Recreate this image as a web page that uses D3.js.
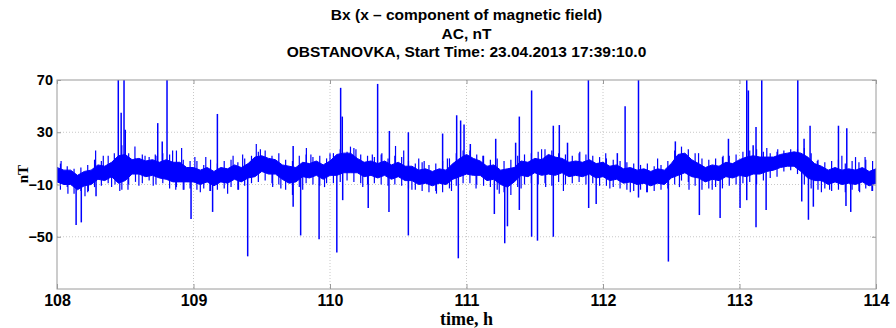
<!DOCTYPE html>
<html>
<head>
<meta charset="utf-8">
<script src="https://cdn.jsdelivr.net/npm/d3@7"></script>
<style>
  body { margin: 0; background: #fff; }
  svg { display: block; }
  .tick text { font-family: "Liberation Sans", Arial, sans-serif; font-weight: bold; fill: #000; }
</style>
</head>
<body>
<svg id="chart" width="896" height="328"></svg>
<script>
// ---- data ----
const titleLines = [
  "Bx (x \u2013 component of magnetic field)",
  "AC, nT",
  "OBSTANOVKA, Start Time: 23.04.2013 17:39:10.0"
];
const xTicks = [108, 109, 110, 111, 112, 113, 114];
const yTicks = [70, 30, -10, -50];

// dense core of the signal, sampled every 0.05 h from 108.00 to 114.00
const bandStart = 108, bandStep = 0.05;
const bandHi = [
  3, 1, 1, -3, 0, 1, 5, 4, 7, 12,
  13, 9, 10, 8, 9, 7, 9, 7, 7, 3,
  3, 1, 3, 0, 3, 2, 5, 3, 6, 11,
  12, 10, 9, 5, 4, 3, 7, 6, 8, 5,
  8, 13, 14, 14, 10, 7, 8, 6, 8, 5,
  7, 4, 4, 1, 2, 0, 2, 1, 6, 10,
  13, 10, 8, 4, 5, 1, 2, 3, 8, 7,
  10, 9, 13, 11, 10, 7, 8, 7, 9, 6,
  7, 4, 5, 2, 3, 1, 2, 0, 2, 1,
  6, 13, 14, 9, 6, 3, 5, 4, 7, 6,
  9, 11, 12, 11, 11, 11, 13, 14, 15, 14,
  11, 6, 4, 1, 3, 1, 2, 1, 3, 0,
  2
];
const bandLo = [
  -8, -10, -10, -14, -11, -10, -6, -7, -4, -9,
  -7, -2, -2, -4, -3, -5, -6, -8, -8, -8,
  -8, -10, -8, -11, -8, -9, -6, -8, -5, -4,
  0, -2, -2, -6, -9, -8, -4, -5, -3, -6,
  -3, -3, -1, -1, -1, -4, -3, -5, -3, -6,
  -4, -7, -7, -10, -9, -11, -9, -10, -6, -4,
  -2, -3, -3, -7, -6, -10, -12, -8, -3, -4,
  -1, -3, -2, -3, -1, -4, -3, -4, -2, -5,
  -4, -7, -6, -9, -8, -10, -9, -11, -9, -10,
  -5, -3, -1, -4, -5, -8, -6, -7, -4, -5,
  -3, -4, -2, -2, 0, 1, 3, 4, 4, 0,
  -5, -7, -7, -10, -8, -10, -9, -10, -8, -11,
  -9
];

// outer fuzz of the signal at the half steps 108.025, 108.075, ... 113.975
const fuzzStart = 108.025;
const fuzzUp = [
  6, 4, 2, 3, 5, 9, 8, 12, 10, 20,
  14, 10, 13, 11, 12, 14, 13, 16, 9, 8,
  8, 5, 9, 6, 8, 9, 7, 10, 12, 15,
  16, 12, 14, 9, 8, 12, 13, 11, 12, 10,
  14, 17, 15, 18, 13, 12, 11, 13, 10, 12,
  11, 8, 6, 7, 5, 6, 8, 10, 14, 16,
  16, 13, 12, 9, 10, 8, 9, 12, 13, 14,
  15, 17, 16, 14, 13, 12, 14, 13, 12, 11,
  10, 9, 8, 7, 6, 5, 6, 4, 5, 8,
  16, 19, 17, 14, 10, 9, 10, 11, 12, 13,
  15, 16, 17, 15, 14, 15, 16, 17, 17, 18,
  14, 9, 7, 8, 9, 6, 8, 7, 9, 8
];
const fuzzDown = [
  -14, -12, -17, -15, -16, -12, -11, -9, -10, -14,
  -10, -8, -9, -7, -10, -9, -13, -12, -14, -13,
  -14, -13, -15, -14, -13, -12, -14, -11, -9, -8,
  -7, -9, -10, -14, -18, -12, -9, -10, -11, -9,
  -9, -8, -7, -8, -9, -10, -9, -10, -11, -10,
  -11, -13, -14, -15, -16, -15, -16, -13, -11, -9,
  -9, -10, -11, -12, -14, -16, -18, -12, -10, -9,
  -10, -9, -11, -8, -10, -9, -8, -10, -9, -11,
  -11, -12, -13, -14, -15, -14, -16, -15, -14, -13,
  -10, -7, -8, -11, -14, -13, -12, -13, -11, -10,
  -9, -8, -10, -7, -5, -4, 0, 1, -2, -10,
  -13, -14, -13, -15, -14, -16, -14, -15, -13, -15
];

// isolated spikes: hour, value (nT)
const spikeHours = [
  108.449, 108.491, 108.470, 108.500, 108.806, 108.738, 108.771, 109.175, 109.730, 110.078,
  110.090, 110.349, 110.435, 110.574, 110.825, 110.928, 110.957, 110.982, 111.028, 111.214,
  111.360, 111.387, 111.477, 111.636, 111.680, 111.740, 111.893, 112.105, 112.162, 112.260,
  112.530, 112.919, 113.053, 113.065, 113.100, 113.121, 113.163, 113.427, 113.473, 113.517,
  113.725, 113.786,
  108.140, 108.178, 108.286, 108.982, 109.140, 109.397, 109.730, 109.785, 109.920, 110.050,
  110.093, 110.280, 110.432, 110.574, 110.940, 111.204, 111.280, 111.300, 111.387, 111.477,
  111.520, 111.636, 111.895, 111.950, 112.260, 112.479, 112.706, 112.858, 113.004, 113.053,
  113.121, 113.195, 113.456, 113.505, 113.541, 113.780, 113.815
];
const spikeValues = [
  74, 74, 45, 32, 74, 37, 23, 44, 19.5, 64,
  42, 67, 31, 30, 29, 43, 39, 36, 21, 25,
  22, 42, 62, 35, 35.5, 22, 74, 14, 50, 74,
  23, 25, 74, 62, 20, 34, 74, 74, 25, 35,
  35, 33,
  -41, -39, -19, -36.5, -31, -65, -27, -49, -52, -62,
  -22, -28, -31, -49, -66.5, -32.6, -55, -42, -29.5, -50,
  -53, -50, -28, -25, -20, -69, -33.4, -35.7, -28, -22,
  -42.8, -29.5, -23, -37, -27, -26.5, -31
];

// smaller spikes along the band edges
const fuzzHours = [
  108.03, 108.08, 108.205, 108.23, 108.283, 108.339, 108.40, 108.42, 108.46, 108.52,
  108.571, 108.60, 108.645, 108.705, 108.72, 108.847, 108.87, 108.913, 108.93, 109.01,
  109.05, 109.09, 109.12, 109.25, 109.29, 109.33, 109.36, 109.46, 109.49, 109.58,
  109.64, 109.80, 109.827, 109.86, 109.96, 110.00, 110.15, 110.19, 110.24, 110.31,
  110.38, 110.48, 110.54, 110.60, 110.65, 110.69, 110.78, 110.86, 110.89, 111.07,
  111.12, 111.24, 111.40, 111.55, 111.58, 111.71, 111.83, 112.02, 112.05, 112.20,
  112.32, 112.40, 112.56, 112.63, 112.70, 112.80, 112.88, 113.20, 113.28, 113.57,
  113.60, 113.66, 113.75, 113.85, 113.88, 113.92, 113.97
];
const fuzzValues = [
  8, -17, -19, -15, 16, 12, -12, 14, -15, -14,
  19, -11, 12, -11, 13, 16, -14, 18, -14, 11,
  -16, 11, -15, -17, 12, -14, 13, 21, 17, -12,
  -13, -14, 18, 13, -12, 14, 19, 17, -12, 13,
  14, 19.5, 16, -14, 10, 8, -17, 10, -15, -13,
  12, -17, -13, 17, -12, -15, 15, 14, -13, -16,
  -16, 10, -12, -14, 14, -14, 12, 18, 17, 8,
  -16, -14, 12, 11, -16, 11, -15
];

// ---- layout ----
const svg = d3.select("#chart");
const margin = { top: 80, right: 20, bottom: 39, left: 57 };
const W = 896, H = 328;
const plotW = W - margin.left - margin.right;
const plotH = H - margin.top - margin.bottom;

const x = d3.scaleLinear().domain([108, 114]).range([0, plotW]);
const y = d3.scaleLinear().domain([-90, 70]).range([plotH, 0]);

const blue = "#0000ff";
const grey = "#9a9a9a";

// titles
svg.append("g")
  .attr("font-family", "Liberation Sans, Arial, sans-serif")
  .attr("font-weight", "bold")
  .attr("font-size", 15.5)
  .attr("text-anchor", "middle")
  .selectAll("text")
  .data(titleLines)
  .join("text")
  .attr("x", margin.left + plotW / 2)
  .attr("y", (d, i) => 20 + i * 18.5)
  .text(d => d);

const g = svg.append("g").attr("transform", `translate(${margin.left},${margin.top})`);

g.append("defs").append("clipPath").attr("id", "clip")
  .append("rect").attr("width", plotW).attr("height", plotH);

// grid
g.append("g")
  .selectAll("line")
  .data(xTicks.slice(1, -1))
  .join("line")
  .attr("x1", d => x(d)).attr("x2", d => x(d))
  .attr("y1", 0).attr("y2", plotH)
  .attr("stroke", "#c8c8c8").attr("stroke-dasharray", "1,2");
g.append("g")
  .selectAll("line")
  .data(yTicks.slice(1))
  .join("line")
  .attr("x1", 0).attr("x2", plotW)
  .attr("y1", d => y(d)).attr("y2", d => y(d))
  .attr("stroke", "#c8c8c8").attr("stroke-dasharray", "1,2");

// signal
const sig = g.append("g").attr("clip-path", "url(#clip)");
const bandHour = i => bandStart + i * bandStep;
const mid = h => {
  const i = Math.max(0, Math.min(bandHi.length - 1, Math.round((h - bandStart) / bandStep)));
  return (bandHi[i] + bandLo[i]) / 2;
};

const area = d3.area()
  .x((d, i) => x(bandHour(i)))
  .y0((d, i) => y(bandLo[i]))
  .y1((d, i) => y(bandHi[i]));
sig.append("path")
  .datum(bandHi)
  .attr("d", area)
  .attr("fill", blue)
  .attr("stroke", blue)
  .attr("stroke-width", 1);

sig.append("g")
  .selectAll("line")
  .data(fuzzUp)
  .join("line")
  .attr("x1", (d, i) => x(fuzzStart + i * bandStep))
  .attr("x2", (d, i) => x(fuzzStart + i * bandStep))
  .attr("y1", (d, i) => y(fuzzDown[i]))
  .attr("y2", d => y(d))
  .attr("stroke", blue).attr("stroke-width", 1.2);

sig.append("g")
  .selectAll("line")
  .data(fuzzHours)
  .join("line")
  .attr("x1", d => x(d)).attr("x2", d => x(d))
  .attr("y1", d => y(mid(d)))
  .attr("y2", (d, i) => y(fuzzValues[i]))
  .attr("stroke", blue).attr("stroke-width", 1.2);

sig.append("g")
  .selectAll("line")
  .data(spikeHours)
  .join("line")
  .attr("x1", d => x(d)).attr("x2", d => x(d))
  .attr("y1", d => y(mid(d)))
  .attr("y2", (d, i) => y(spikeValues[i]))
  .attr("stroke", blue).attr("stroke-width", 1.5);

// axes (MATLAB style: box with inward ticks)
const xAxis = g.append("g")
  .attr("transform", `translate(0,${plotH})`)
  .call(d3.axisBottom(x).tickValues(xTicks).tickFormat(d3.format("d")).tickSize(-5).tickPadding(6));
xAxis.selectAll("text").attr("font-size", 16);

const yAxis = g.append("g")
  .call(d3.axisLeft(y).tickValues(yTicks).tickFormat(d3.format("d")).tickSize(-4).tickPadding(4));
yAxis.selectAll("text").attr("font-size", 14.5);

g.append("g").attr("transform", `translate(${plotW},0)`)
  .call(d3.axisRight(y).tickValues(yTicks).tickFormat("").tickSize(-4));
g.append("g")
  .call(d3.axisTop(x).tickValues(xTicks).tickFormat("").tickSize(-4));

g.selectAll(".domain").remove();
g.selectAll(".tick line").attr("stroke", grey);

g.append("rect")
  .attr("width", plotW).attr("height", plotH)
  .attr("fill", "none").attr("stroke", grey).attr("stroke-width", 1);

// axis labels
svg.append("text")
  .attr("x", margin.left + plotW / 2)
  .attr("y", 325)
  .attr("text-anchor", "middle")
  .attr("font-family", "Liberation Serif, Times New Roman, serif")
  .attr("font-weight", "bold")
  .attr("font-size", 18)
  .text("time, h");

svg.append("text")
  .attr("transform", `translate(28,${margin.top + y(-2)}) rotate(-90)`)
  .attr("text-anchor", "middle")
  .attr("font-family", "Liberation Serif, Times New Roman, serif")
  .attr("font-weight", "bold")
  .attr("font-size", 15)
  .text("nT");
</script>
</body>
</html>
